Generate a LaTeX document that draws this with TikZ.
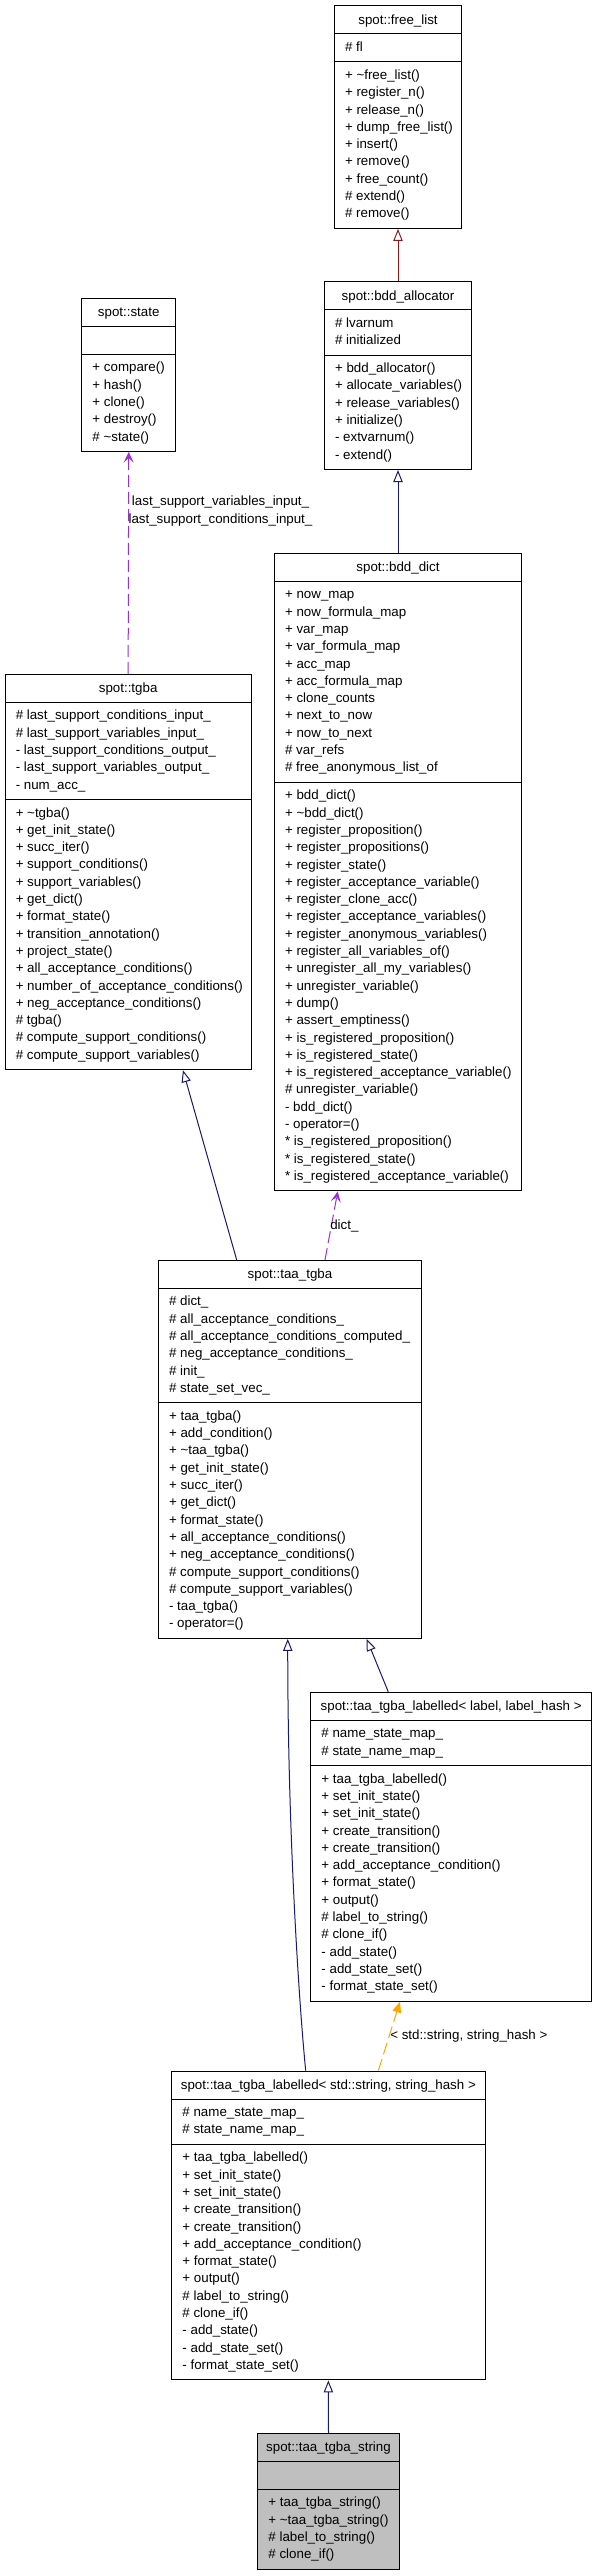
\documentclass[tikz,border=0pt]{standalone}
\usepackage{fontspec}
\setmainfont{Liberation Sans}
\usetikzlibrary{arrows.meta,fit}

\definecolor{inheritblue}{HTML}{191970}
\definecolor{inheritred}{HTML}{8B1A1A}
\definecolor{usepurple}{HTML}{9A32CD}
\definecolor{templorange}{HTML}{FFA500}
\definecolor{classgrey}{HTML}{BFBFBF}

\begin{document}
\begin{tikzpicture}[
  x=0.75pt,
  y=-0.75pt,
  font=\fontsize{10}{12}\selectfont,
  classbox/.style={
    draw=black,
    fill=white,
    line width=0.75pt,
    inner sep=0pt
  },
  classline/.style={
    draw=black,
    line width=0.75pt
  },
  classtitle/.style={
    anchor=base,
    inner sep=0pt
  },
  member/.style={
    anchor=base west,
    inner sep=0pt
  },
  edgelabel/.style={
    anchor=base west,
    inner sep=0pt
  },
  inherit/.style={
    draw=inheritblue,
    line width=0.75pt,
    -{Triangle[open,length=9pt,width=7pt]}
  },
  inheritpriv/.style={
    inherit,
    draw=inheritred
  },
  usage/.style={
    draw=usepurple,
    line width=0.75pt,
    dash pattern=on 9pt off 3.75pt,
    -{Stealth[length=8pt,width=7.5pt,inset=3.5pt]}
  },
  templ/.style={
    draw=templorange,
    line width=0.75pt,
    dash pattern=on 9pt off 3.75pt,
    -{Triangle[length=8pt,width=6.5pt]}
  }
]

\useasboundingbox (0,0) rectangle (596,2576);

% #1 name, #2 left, #3 right, #4 top, #5 attrs, #6 methods, #7 title, #8 attr list, #9 method list
\newcommand{\umlclass}[9]{%
  \pgfmathsetmacro{\hdry}{#4+28}
  \pgfmathsetmacro{\attry}{\hdry+ifthenelse(#5==0,28,10.7+17.3*#5)}
  \pgfmathsetmacro{\boty}{\attry+10.7+17.3*#6}
  \node[classbox, fit={(#2,#4) (#3,\boty)}] (#1) {};
  \draw[classline] (#2,\hdry) -- (#3,\hdry);
  \draw[classline] (#2,\attry) -- (#3,\attry);
  \node[classtitle] (#1-name) at ({(#2+#3)/2},{#4+18.5}) {#7};
  \foreach \txt [count=\k] in {#8} {
    \node[member] (#1-a\k) at ({#2+10.5},{\hdry+17.5+(\k-1)*17.3}) {\txt};
  }
  \foreach \txt [count=\k] in {#9} {
    \node[member] (#1-m\k) at ({#2+10.5},{\attry+17.5+(\k-1)*17.3}) {\txt};
  }
}

\umlclass{freelist}{334.3}{461.7}{6}{1}{9}{spot::free\_list}
  {\# fl}
  {+ \textasciitilde free\_list(), + register\_n(), + release\_n(), + dump\_free\_list(),
   + insert(), + remove(), + free\_count(), \# extend(), \# remove()}

\umlclass{bddalloc}{324.3}{471.7}{281.7}{2}{6}{spot::bdd\_allocator}
  {\# lvarnum, \# initialized}
  {+ bdd\_allocator(), + allocate\_variables(), + release\_variables(), + initialize(),
   - extvarnum(), - extend()}

\umlclass{state}{81.7}{175.7}{298.3}{0}{5}{spot::state}
  {}
  {+ compare(), + hash(), + clone(), + destroy(), \# \textasciitilde state()}

\umlclass{bdddict}{274.3}{521.7}{553.3}{11}{23}{spot::bdd\_dict}
  {+ now\_map, + now\_formula\_map, + var\_map, + var\_formula\_map, + acc\_map,
   + acc\_formula\_map, + clone\_counts, + next\_to\_now, + now\_to\_next, \# var\_refs,
   \# free\_anonymous\_list\_of}
  {+ bdd\_dict(), + \textasciitilde bdd\_dict(), + register\_proposition(),
   + register\_propositions(), + register\_state(), + register\_acceptance\_variable(),
   + register\_clone\_acc(), + register\_acceptance\_variables(),
   + register\_anonymous\_variables(), + register\_all\_variables\_of(),
   + unregister\_all\_my\_variables(), + unregister\_variable(), + dump(),
   + assert\_emptiness(), + is\_registered\_proposition(), + is\_registered\_state(),
   + is\_registered\_acceptance\_variable(), \# unregister\_variable(), - bdd\_dict(),
   - operator=(), * is\_registered\_proposition(), * is\_registered\_state(),
   * is\_registered\_acceptance\_variable()}

\umlclass{tgba}{5}{251.3}{674.3}{5}{15}{spot::tgba}
  {\# last\_support\_conditions\_input\_, \# last\_support\_variables\_input\_,
   - last\_support\_conditions\_output\_, - last\_support\_variables\_output\_, - num\_acc\_}
  {+ \textasciitilde tgba(), + get\_init\_state(), + succ\_iter(), + support\_conditions(),
   + support\_variables(), + get\_dict(), + format\_state(), + transition\_annotation(),
   + project\_state(), + all\_acceptance\_conditions(), + number\_of\_acceptance\_conditions(),
   + neg\_acceptance\_conditions(), \# tgba(), \# compute\_support\_conditions(),
   \# compute\_support\_variables()}

\umlclass{taatgba}{158.3}{421.7}{1260.3}{6}{13}{spot::taa\_tgba}
  {\# dict\_, \# all\_acceptance\_conditions\_, \# all\_acceptance\_conditions\_computed\_,
   \# neg\_acceptance\_conditions\_, \# init\_, \# state\_set\_vec\_}
  {+ taa\_tgba(), + add\_condition(), + \textasciitilde taa\_tgba(), + get\_init\_state(),
   + succ\_iter(), + get\_dict(), + format\_state(), + all\_acceptance\_conditions(),
   + neg\_acceptance\_conditions(), \# compute\_support\_conditions(),
   \# compute\_support\_variables(), - taa\_tgba(), - operator=()}

\umlclass{labelled}{310.7}{591.7}{1692.3}{2}{13}{spot::taa\_tgba\_labelled< label, label\_hash >}
  {\# name\_state\_map\_, \# state\_name\_map\_}
  {+ taa\_tgba\_labelled(), + set\_init\_state(), + set\_init\_state(), + create\_transition(),
   + create\_transition(), + add\_acceptance\_condition(), + format\_state(), + output(),
   \# label\_to\_string(), \# clone\_if(), - add\_state(), - add\_state\_set(),
   - format\_state\_set()}

\umlclass{labelledstr}{171.7}{485}{2071}{2}{13}{spot::taa\_tgba\_labelled< std::string, string\_hash >}
  {\# name\_state\_map\_, \# state\_name\_map\_}
  {+ taa\_tgba\_labelled(), + set\_init\_state(), + set\_init\_state(), + create\_transition(),
   + create\_transition(), + add\_acceptance\_condition(), + format\_state(), + output(),
   \# label\_to\_string(), \# clone\_if(), - add\_state(), - add\_state\_set(),
   - format\_state\_set()}

\begin{scope}[classbox/.append style={fill=classgrey}]
\umlclass{taastring}{257.7}{399.3}{2433.3}{0}{4}{spot::taa\_tgba\_string}
  {}
  {+ taa\_tgba\_string(), + \textasciitilde taa\_tgba\_string(), \# label\_to\_string(),
   \# clone\_if()}
\end{scope}

% inheritance
\draw[inheritpriv] (bddalloc.north) -- (freelist.south);
\draw[inherit] (bdddict.north) -- (bddalloc.south);
\draw[inherit] ([xshift=-40pt]taatgba.north) -- ([xshift=41.1pt]tgba.south);
\draw[inherit] ([xshift=-17pt]labelledstr.north)
  .. controls +(-6,-60) and +(0,200) .. ([xshift=-1.7pt]taatgba.south);
\draw[inherit] ([xshift=-47.2pt]labelled.north) -- ([xshift=57.5pt]taatgba.south);
\draw[inherit] (taastring.north) -- (labelledstr.south);

% usage and template
\draw[usage] (tgba.north) -- (state.south);
\draw[usage] ([xshift=26.25pt]taatgba.north) -- ([xshift=-45.2pt]bdddict.south);
\draw[templ] ([xshift=37.5pt]labelledstr.north) -- ([xshift=-38.4pt]labelled.south);

\node[edgelabel] (lsvi) at (131.7,505.5) {last\_support\_variables\_input\_};
\node[edgelabel] (lsci) at (128.3,523.8) {last\_support\_conditions\_input\_};
\node[edgelabel] (dictlbl) at (330,1229.5) {dict\_};
\node[edgelabel] (templlbl) at (390,2039.5) {< std::string, string\_hash >};

\end{tikzpicture}
\end{document}
